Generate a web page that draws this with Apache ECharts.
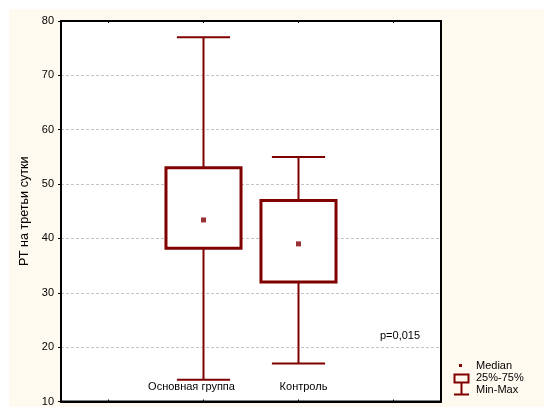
<!DOCTYPE html>
<html>
<head>
<meta charset="utf-8">
<script src="https://cdn.jsdelivr.net/npm/echarts@6/dist/echarts.min.js"></script>
<style>
  html, body { margin: 0; padding: 0; background: #ffffff; }
  #wrap { position: relative; width: 544px; height: 407px; }
  #paper { position: absolute; left: 9px; top: 9px; right: 0; bottom: 0; background: #FFFAF0; }
  #chart { position: absolute; left: 0; top: 0; width: 544px; height: 407px; }
</style>
</head>
<body>
<div id="wrap">
  <div id="paper"></div>
  <div id="chart"></div>
</div>
<script>
// Groups and their summary statistics
const groups = ['Основная группа', 'Контроль'];
const minVals = [14, 17];
const q1Vals = [38.2, 32];
const medianVals = [43.4, 39];
const q3Vals = [53, 47];
const maxVals = [77, 55];
const yTicks = [10, 20, 30, 40, 50, 60, 70, 80];
const pText = 'p=0,015';

const MAROON = '#800000';
const FONT = '"Liberation Sans", Arial, sans-serif';

// Axis slots: an empty slot on each side of the two groups.
// The group names sit slightly off-centre under their boxes.
const labelPads = [[0, 24, 0, 0], [0, 0, 0, 10]];
const categories = [''].concat(
  groups.map((g, i) => ({ value: g, textStyle: { padding: labelPads[i] } })),
  ['']
);

const boxData = groups.map((g, i) => [i + 1, minVals[i], q1Vals[i], medianVals[i], q3Vals[i], maxVals[i]]);
const medianData = groups.map((g, i) => [i + 1, medianVals[i]]);

function renderBox(params, api) {
  const idx = api.value(0);
  const pMin = api.coord([idx, api.value(1)]);
  const pQ1 = api.coord([idx, api.value(2)]);
  const pQ3 = api.coord([idx, api.value(4)]);
  const pMax = api.coord([idx, api.value(5)]);
  const band = api.size([1, 0])[0];
  const boxW = band * 0.79;
  const capW = band * 0.56;
  const cx = pMin[0];
  const lineStyle = { stroke: MAROON, lineWidth: 2 };
  return {
    type: 'group',
    children: [
      { type: 'line', shape: { x1: cx, y1: pMax[1], x2: cx, y2: pMin[1] }, style: lineStyle },
      { type: 'line', shape: { x1: cx - capW / 2, y1: pMax[1], x2: cx + capW / 2, y2: pMax[1] }, style: lineStyle },
      { type: 'line', shape: { x1: cx - capW / 2, y1: pMin[1], x2: cx + capW / 2, y2: pMin[1] }, style: lineStyle },
      {
        type: 'rect',
        shape: { x: cx - boxW / 2, y: pQ3[1], width: boxW, height: pQ1[1] - pQ3[1] },
        style: { fill: '#ffffff', stroke: MAROON, lineWidth: 3 }
      }
    ]
  };
}

const chart = echarts.init(document.getElementById('chart'), null, { renderer: 'canvas' });
chart.setOption({
  backgroundColor: 'transparent',
  animation: false,
  textStyle: { fontFamily: FONT },
  grid: {
    left: 61, top: 21, right: 103, bottom: 5,
    show: true, backgroundColor: '#ffffff', borderColor: '#000000', borderWidth: 2
  },
  xAxis: [
    {
      type: 'category',
      data: categories,
      position: 'bottom',
      axisLine: { lineStyle: { color: '#000000', width: 2 } },
      axisTick: { show: true, alignWithLabel: true, inside: true, length: 2, interval: 0, lineStyle: { color: '#000' } },
      axisLabel: { inside: true, interval: 0, margin: 9, color: '#000000', fontSize: 11, fontFamily: FONT },
      splitLine: { show: false }
    },
    {
      type: 'category',
      data: categories,
      position: 'top',
      axisLine: { lineStyle: { color: '#000000', width: 2 } },
      axisTick: { show: true, alignWithLabel: true, inside: true, length: 2, interval: 0, lineStyle: { color: '#000' } },
      axisLabel: { show: false },
      splitLine: { show: false }
    }
  ],
  yAxis: {
    type: 'value',
    min: yTicks[0],
    max: yTicks[yTicks.length - 1],
    interval: yTicks[1] - yTicks[0],
    name: 'РТ на третьи сутки',
    nameLocation: 'middle',
    nameGap: 30,
    nameTextStyle: { color: '#000000', fontSize: 12.6, fontFamily: FONT },
    axisLine: { show: true, lineStyle: { color: '#000000', width: 2 } },
    axisTick: { show: true, length: 3, lineStyle: { color: '#000000' } },
    axisLabel: { color: '#000000', fontSize: 11, margin: 7, fontFamily: FONT },
    splitLine: { show: true, lineStyle: { color: '#c4c4c4', type: [3, 2], width: 1 } }
  },
  series: [
    {
      name: '25%-75%',
      type: 'custom',
      renderItem: renderBox,
      data: boxData,
      encode: { x: 0, y: [1, 2, 3, 4, 5] },
      z: 2
    },
    {
      name: 'Median',
      type: 'scatter',
      data: medianData,
      symbol: 'rect',
      symbolSize: 5,
      itemStyle: { color: MAROON },
      z: 3
    }
  ],
  graphic: [
    {
      type: 'text', left: 380, top: 330,
      style: { text: pText, fill: '#000000', font: '11px ' + FONT }
    },
    // key
    { type: 'rect', shape: { x: 459, y: 364, width: 3, height: 3 }, style: { fill: MAROON } },
    { type: 'rect', shape: { x: 454.5, y: 374.5, width: 14, height: 8 }, style: { fill: 'none', stroke: MAROON, lineWidth: 2 } },
    { type: 'line', shape: { x1: 461.5, y1: 383, x2: 461.5, y2: 394 }, style: { stroke: MAROON, lineWidth: 2 } },
    { type: 'line', shape: { x1: 454, y1: 394.5, x2: 469, y2: 394.5 }, style: { stroke: MAROON, lineWidth: 2 } },
    { type: 'text', left: 476, top: 360, style: { text: 'Median', fill: '#000000', font: '11px ' + FONT } },
    { type: 'text', left: 476, top: 372, style: { text: '25%-75%', fill: '#000000', font: '11px ' + FONT } },
    { type: 'text', left: 476, top: 384, style: { text: 'Min-Max', fill: '#000000', font: '11px ' + FONT } }
  ]
});
</script>
</body>
</html>
